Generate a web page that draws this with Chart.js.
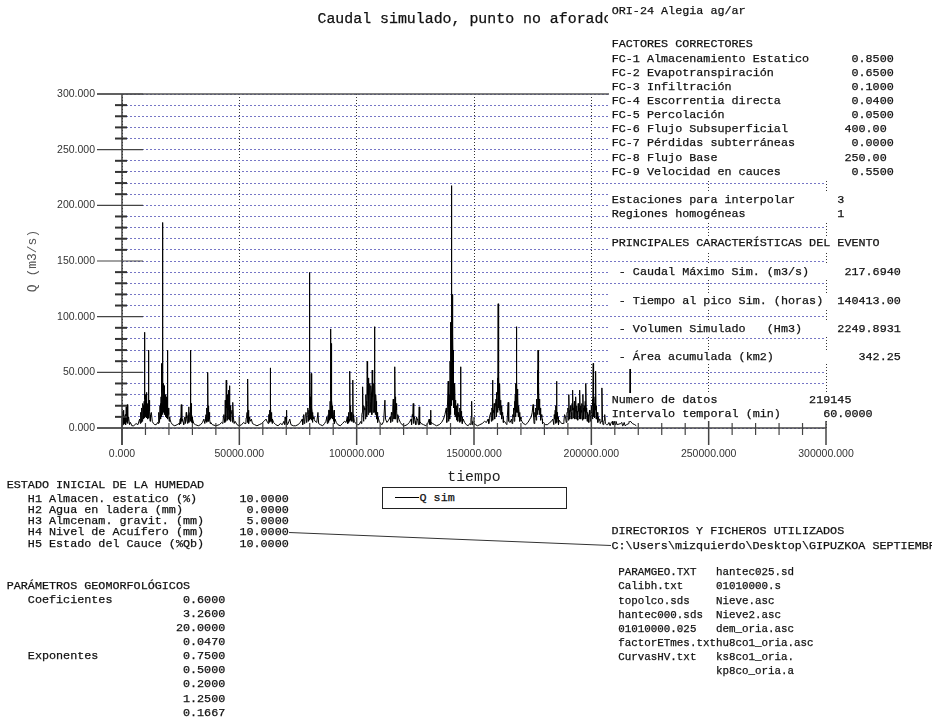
<!DOCTYPE html>
<html>
<head>
<meta charset="utf-8">
<script src="https://cdn.jsdelivr.net/npm/chart.js@4/dist/chart.umd.min.js"></script>
<style>
  html, body { margin: 0; padding: 0; background: #fff; }
  #wrap { position: relative; width: 932px; height: 722px; overflow: hidden; }
  canvas { position: absolute; left: 0; top: 0; }
  .t { position: absolute; white-space: pre; font-family: 'Liberation Mono', monospace; color: #111; box-sizing: border-box; -webkit-text-stroke: 0.25px #111; }
</style>
</head>
<body>
<div id="wrap"><canvas id="c" width="932" height="722"></canvas></div>
<script>
// Simulated hourly discharge: time (hours) and Q (m3/s), one line per flood event
const tiempo = [
  0,200,350,600,800,1100,1500,1800,2000,2300,2500,2800,3200,3600,4200,
  5000,6000,6800,7500,7900,8300,8600,9000,9300,9670,9850,10100,10400,10600,10900,11100,11375,11550,11800,12100,12500,12900,13400,14000,
  14600,15200,15600,16000,16400,16740,16900,17100,17340,17500,17700,17900,18100,18400,18700,19000,19300,19450,19700,20000,20400,20900,21500,
  22500,23500,24300,24800,25260,25500,26100,26600,27000,27390,27700,28100,28410,28700,29000,29270,29450,29700,30100,30600,31300,
  32500,33500,34300,34900,35400,35800,36200,36400,36640,36800,37100,37400,37800,38500,
  40000,41500,42500,43200,43600,44000,44200,44430,44650,44900,45100,45400,45600,45880,46100,46500,46900,47290,47600,48200,49000,50000,
  51000,51800,52400,52900,53300,53500,53680,53850,54200,54600,55100,55600,56500,
  57500,58500,59500,60500,61400,62000,62500,62900,63180,63350,63700,64100,64600,65500,
  66500,67500,68300,69000,69500,70000,70300,70800,71500,72000,73000,
  74000,75000,76000,76800,77400,77900,78400,78800,79200,79500,79960,80150,80400,80640,80900,81300,81800,82300,83000,83500,83800,84500,
  85500,86300,86900,87300,87700,88100,88400,88700,88900,89050,89200,89400,89700,90000,90400,90800,91300,92000,
  93000,94000,94800,95500,96000,96500,96800,97130,97300,97700,98100,98410,98600,99000,99600,100300,
  101000,101800,102200,102540,102700,103100,103500,103900,104200,104500,104700,105000,105200,105500,105800,106100,106400,106630,106900,107200,107450,107650,107800,108100,108400,108700,109100,109600,110200,
  110800,111500,112040,112300,112900,113600,114300,114800,115300,115600,115900,116300,116500,116800,117100,117500,118000,118600,119300,
  120500,121500,122500,123200,123700,124100,124400,124900,125500,126000,126650,126900,127500,128500,
  129500,130300,130900,131200,131500,131800,132400,133200,
  134000,135200,136200,137000,137600,138200,138600,139000,139300,139600,139800,140000,140150,140300,140413,140550,140700,140850,141000,141150,141300,141500,141700,141900,142100,142400,142700,143000,143300,143700,144000,144300,144500,144900,145400,146000,146700,
  147500,148200,148700,149000,149300,149900,150600,
  151500,152500,153500,154500,155300,156000,156600,157200,157600,157900,158200,158600,159000,159400,159700,160000,160150,160300,160450,160600,160800,161000,161300,161600,162000,162500,163000,163600,
  164000,164560,164800,165400,166000,166500,166900,167300,167600,167850,168000,168140,168300,168500,168700,169000,169400,169900,170400,171000,
  172000,173000,173800,174400,174800,175160,175400,175900,176300,176700,177000,177150,177300,177450,177650,177900,178200,178600,179100,179700,180400,
  181400,182300,183000,183600,184200,184600,184900,185200,185400,185800,186300,186900,
  187500,188300,189000,189600,190000,190400,190700,191100,191500,191800,192100,192400,192800,193100,193400,193700,194000,194400,194800,195100,195400,195700,196000,196400,196700,197000,197400,197700,198000,198400,198800,199200,
  199600,200000,200300,200600,200800,201000,201300,201600,201900,202100,202500,203000,203600,204200,204500,204800,
  205300,205700,206000,207000,208500,209200,210500,211000,212500,213500,215000,216300,216500,216700,217500,218500,219145
];
const qSim = [
  2,15,3,16,4,8,3,19,5,21,6,10,3,5,2,
  2,4,3,8,4,12,6,20,10,86,30,18,32,12,22,14,70,25,15,10,14,6,4,3,
  3,5,12,6,22,58,25,35,184.6,40,30,38,22,30,18,26,70,30,18,12,8,5,3,
  2,3,4,8,21,6,5,9,4,14,6,10,19,8,14,70,22,12,8,4,3,
  2,3,5,8,6,12,18,10,50,20,14,8,5,3,
  2,3,5,10,8,25,14,43,20,30,16,34,18,38,20,12,16,23,10,6,3,2,
  3,5,4,9,14,8,44,16,10,6,8,4,3,
  2,3,4,6,8,5,12,16,54,22,14,8,5,3,
  2,4,3,6,10,16,6,4,8,3,2,
  2,3,5,8,12,6,14,10,18,12,139.7,28,20,49,18,12,8,6,5,14,4,3,
  2,4,6,10,8,16,12,24,89,30,76,25,18,12,16,8,5,3,
  2,4,6,5,10,14,8,51,20,14,10,43,12,6,4,3,
  3,6,12,37,14,20,16,30,22,60,35,45,28,40,24,38,30,52,28,40,30,91,42,30,22,14,10,6,4,
  3,6,25,8,5,7,10,14,18,26,20,55,28,22,16,12,8,5,3,
  2,3,5,8,12,22,8,6,10,7,19,6,4,3,
  2,4,8,6,16,5,4,3,
  2,3,5,8,12,18,14,42,20,30,60,45,95,80,217.694,125,100,120,85,70,55,40,30,38,25,20,16,22,14,12,18,55,15,10,8,5,3,
  2,4,8,24,6,5,3,
  2,3,4,6,5,8,10,14,18,43,16,22,18,26,32,45,38,111.6,60,48,35,40,25,20,14,10,6,4,
  3,23,6,5,8,12,18,24,30,40,46,91,44,35,28,20,14,10,6,4,
  3,5,8,10,14,21,10,14,18,26,40,52,70,50,38,26,18,12,8,5,3,
  3,5,6,8,12,16,20,42,14,10,7,5,
  4,6,10,14,18,30,16,20,14,22,34,18,24,16,28,20,15,22,18,34,20,16,22,30,18,20,24,40,18,14,12,16,
  10,20,14,26,58,30,22,28,51,20,14,10,8,6,36,5,
  6,12,4,3,5,3,6,3,4,2,3,8,53,6,4,3,2
];

// Dense low-flow oscillation at the foot of each event, [hours, m3/s]
const fondo = [
  [300,4],[500,12],[700,3],[900,10],[1200,4],[1400,12],[1600,3],[2100,14],[2400,4],[2700,9],
  [7800,4],[8000,14],[8200,5],[8450,18],[8700,6],[8900,22],[9150,8],[9450,24],[9550,9],[9750,26],[10000,10],[10250,24],[10500,9],[10750,20],[11000,8],[11250,22],[11450,9],[11700,18],[11950,6],[12200,12],
  [15400,4],[15700,14],[15900,5],[16200,20],[16500,8],[16650,28],[16800,10],[17000,32],[17200,12],[17450,34],[17600,14],[17800,32],[18000,12],[18250,30],[18500,10],[18800,26],[18900,9],[19100,28],[19200,10],[19400,24],[19600,8],[19850,16],[20100,6],[20300,10],
  [24500,3],[24900,9],[25100,4],[25700,8],[26300,3],[26800,10],[27200,4],[27550,9],[27900,4],[28250,12],[28550,5],[28850,12],[29100,6],[29350,14],[29550,5],[29850,10],[30000,4],
  [35300,4],[35600,10],[36000,5],[36100,14],[36300,6],[36500,16],[36700,7],[36900,15],[37000,6],[37250,12],[37600,4],
  [43000,4],[43400,12],[43800,5],[44100,16],[44300,6],[44550,18],[44800,7],[45000,16],[45250,8],[45500,16],[45750,7],[46000,14],[46300,6],[46700,12],[47100,5],[47450,10],[47800,4],
  [52800,4],[53100,10],[53400,5],[53600,12],[53750,5],[53950,12],[54100,4],[54400,8],
  [62300,4],[62700,12],[62800,5],[63050,16],[63100,6],[63250,15],[63500,6],[63800,10],[64000,4],
  [69300,3],[69700,8],[69900,3],[70150,10],[70500,3],
  [77000,3],[77300,10],[77700,4],[78100,12],[78600,5],[79000,14],[79350,6],[79700,16],[79850,7],[80050,18],[80250,8],[80500,16],[80750,7],[81000,14],[81200,5],[81500,10],
  [87500,4],[87900,12],[88000,5],[88250,16],[88550,7],[88800,20],[88950,8],[89150,22],[89300,9],[89500,20],[89600,8],[89850,16],[90150,6],[90300,12],[90500,4],
  [96200,4],[96400,10],[96650,5],[96950,14],[97050,6],[97200,16],[97500,7],[97900,14],[98000,6],[98300,14],[98500,5],[98800,10],
  [102000,4],[102400,14],[102900,6],[103300,18],[103700,8],[104000,24],[104350,10],[104600,30],[104850,12],[105100,32],[105350,14],[105650,34],[105950,14],[106250,32],[106500,12],[106750,30],[107050,14],[107350,34],[107550,14],[107700,30],[107950,12],[108250,24],[108550,8],[108850,14],[109000,5],
  [114500,5],[115000,12],[115150,6],[115450,18],[115750,8],[116000,20],[116150,8],[116400,22],[116650,8],[116950,16],[117300,5],
  [123400,3],[123900,10],[124250,4],[124600,10],[125200,3],[125800,8],[126300,3],[126500,10],[126800,3],
  [131000,3],[131350,8],[131650,3],
  [138400,5],[138800,14],[139150,6],[139450,18],[139700,8],[139900,24],[140080,12],[140230,40],[140350,20],[140480,60],[140620,30],[140780,70],[140920,25],[141080,45],[141220,18],[141400,30],[141600,12],[141800,22],[142000,10],[142250,16],[142550,7],[142850,14],[143150,6],[143500,10],[143850,5],[144150,14],[144400,6],[144700,10],[145000,4],
  [148500,3],[148850,10],[149150,3],[149500,6],
  [156300,4],[156800,10],[157400,6],[157750,16],[158050,7],[158400,14],[158800,8],[159200,18],[159550,10],[159850,22],[160080,14],[160220,30],[160380,18],[160520,32],[160700,16],[160900,26],[161150,12],[161450,18],[161800,8],[162200,12],[162500,5],
  [166200,4],[166700,10],[167100,6],[167450,16],[167700,10],[167950,24],[168080,14],[168220,30],[168400,14],[168600,24],[168850,10],[169200,14],[169600,6],[170000,8],
  [175600,4],[176100,10],[176500,7],[176850,18],[177080,12],[177220,30],[177380,16],[177550,28],[177780,12],[178050,18],[178400,7],[178900,10],[179200,4],
  [184000,3],[184400,8],[184750,4],[185050,12],[185300,5],[185600,8],[186000,3],
  [188000,4],[188600,12],[189300,5],[189800,14],[190200,7],[190550,16],[190900,8],[191300,15],[191650,8],[191950,16],[192250,9],[192600,16],[192950,8],[193250,15],[193550,8],[193850,14],[194200,7],[194600,15],[194950,8],[195250,16],[195550,8],[195850,14],[196200,7],[196550,16],[196850,8],[197200,15],[197550,8],[197850,14],[198200,6],[198600,10],[199000,5],[199400,12],[199800,6],[200150,16],[200450,8],[200700,20],[200900,10],[201150,18],[201450,9],[201750,16],[202000,8],[202300,10],[202750,5],[203300,7],[203800,4],
  [205000,3],[205500,7],[206500,3],[207500,5],[208000,2],[209000,6],[209500,3],[209800,6],[210200,3],[213000,5],[213300,2],[214000,5],[214400,2],[216000,4]
];

// Axis tick labels
const etiquetasY = ['0.000', '50.000', '100.000', '150.000', '200.000', '250.000', '300.000'];
const etiquetasX = ['0.000', '50000.000', '100000.000', '150000.000', '200000.000', '250000.000', '300000.000'];

// Correction factors
const factoresNombres = [
  'FC-1 Almacenamiento Estatico', 'FC-2 Evapotranspiración', 'FC-3 Infiltración',
  'FC-4 Escorrentia directa', 'FC-5 Percolación', 'FC-6 Flujo Subsuperficial',
  'FC-7 Pérdidas subterráneas', 'FC-8 Flujo Base', 'FC-9 Velocidad en cauces'
];
const factoresValores = ['0.8500', '0.6500', '0.1000', '0.0400', '0.0500', '400.00', '0.0000', '250.00', '0.5500'];

// Event summary
const eventoNombres = [' - Caudal Máximo Sim. (m3/s)', ' - Tiempo al pico Sim. (horas)', ' - Volumen Simulado   (Hm3)', ' - Área acumulada (km2)'];
const eventoValores = ['217.6940', '140413.00', '2249.8931', '342.25'];

// Initial moisture state
const humedadNombres = ['H1 Almacen. estatico (%)', 'H2 Agua en ladera (mm)', 'H3 Almcenam. gravit. (mm)', 'H4 Nivel de Acuífero (mm)', 'H5 Estado del Cauce (%Qb)'];
const humedadValores = ['10.0000', '0.0000', '5.0000', '10.0000', '10.0000'];

// Geomorphological parameters
const coeficientes = ['0.6000', '3.2600', '20.0000', '0.0470'];
const exponentes = ['0.7500', '0.5000', '0.2000', '1.2500', '0.1667'];

// Files used
const ficherosA = ['PARAMGEO.TXT', 'Calibh.txt', 'topolco.sds', 'hantec000.sds', '01010000.025', 'factorETmes.txt', 'CurvasHV.txt', ''];
const ficherosB = ['hantec025.sd', '01010000.s', 'Nieve.asc', 'Nieve2.asc', 'dem_oria.asc', 'hu8co1_oria.asc', 'ks8co1_oria.', 'kp8co_oria.a'];

// one ordered series: event readings plus the low-flow record
const puntos = tiempo.map((t, i) => ({ x: t, y: qSim[i] }))
  .concat(fondo.map(([t, q]) => ({ x: t, y: q })))
  .sort((a, b) => a.x - b.x);

// Axis lines with ticks crossing the axes, plus the connector from H4 to the directory line
const ejes = {
  id: 'ejes',
  afterDatasetsDraw(chart) {
    const { ctx, scales: { x, y } } = chart;
    const x0 = x.getPixelForValue(0), x1 = x.getPixelForValue(300000);
    const y0 = y.getPixelForValue(0), y1 = y.getPixelForValue(300);
    const seg = (ax, ay, bx, by, w, c) => {
      ctx.beginPath(); ctx.lineWidth = w; ctx.strokeStyle = c;
      ctx.moveTo(ax, ay); ctx.lineTo(bx, by); ctx.stroke();
    };
    ctx.save();
    ctx.setLineDash([]);
    seg(x0 - 25, y1, x1, y1, 1.5, '#555');
    seg(x0 - 25, y0, x1, y0, 1.5, '#444');
    seg(x0, y1, x0, y0 + 17, 1.5, '#444');
    for (let v = 0; v <= 300; v += 10) {
      const py = y.getPixelForValue(v);
      if (v % 50 === 0) seg(x0 - 25, py, x0 + 21, py, 1.2, '#444');
      else seg(x0 - 7, py, x0 + 5, py, 2, '#333');
    }
    for (let v = 0; v <= 300000; v += 10000) {
      const px = x.getPixelForValue(v);
      if (v % 50000 === 0) seg(px, y0 - 11, px, y0 + 17, 1.5, '#444');
      else seg(px, y0 - 5, px, y0 + 7, 1.2, '#444');
    }
    seg(289, 532.5, 611, 545.5, 1, '#333');
    ctx.restore();
  }
};

const chart = new Chart(document.getElementById('c'), {
  type: 'line',
  data: {
    datasets: [{
      label: 'Q sim',
      data: puntos,
      borderColor: '#000',
      borderWidth: 1,
      pointRadius: 0,
      tension: 0,
      fill: false
    }]
  },
  options: {
    responsive: false,
    animation: false,
    devicePixelRatio: 1,
    events: [],
    layout: { padding: { top: 94, right: 106, bottom: 0, left: 0 } },
    plugins: { legend: { display: false }, title: { display: false }, tooltip: { enabled: false } },
    scales: {
      x: {
        type: 'linear', min: 0, max: 300000,
        afterFit(s) { s.height = 294; },
        ticks: {
          stepSize: 50000, autoSkip: false, maxRotation: 0, padding: 20,
          font: { family: 'Liberation Sans', size: 10.5 }, color: '#333',
          callback: (v) => (v % 50000 === 0 ? etiquetasX[v / 50000] : '')
        },
        grid: { color: '#333', lineWidth: 1, drawTicks: false, borderDash: [1, 2] },
        border: { display: false, dash: [1, 2] },
        title: {
          display: true, text: 'tiempo', color: '#222',
          font: { family: 'Liberation Mono', size: 14.8 },
          padding: { top: 0, bottom: 236.4 }
        }
      },
      y: {
        min: 0, max: 300,
        afterFit(s) { s.width = 122; },
        ticks: {
          stepSize: 10, autoSkip: false, padding: 27,
          font: { family: 'Liberation Sans', size: 10.5 }, color: '#333',
          callback: (v) => (v % 50 === 0 ? etiquetasY[v / 50] : '')
        },
        grid: { color: '#7676c6', lineWidth: 1, drawTicks: false, borderDash: [2, 2] },
        border: { display: false, dash: [2, 2] },
        title: {
          display: true, text: 'Q (m3/s)', color: '#555',
          font: { family: 'Liberation Mono', size: 13 },
          padding: { top: 25, bottom: 0 }
        }
      }
    }
  },
  plugins: [ejes]
});

// ---- text blocks around the plot ----
const wrap = document.getElementById('wrap');
function texto(x, yc, str, size, h, fondoBlanco, ancho) {
  const d = document.createElement('div');
  d.className = 't';
  d.textContent = str;
  d.style.left = x + 'px';
  d.style.top = (yc - h / 2) + 'px';
  d.style.height = h + 'px';
  d.style.lineHeight = h + 'px';
  d.style.fontSize = size + 'px';
  if (fondoBlanco) { d.style.background = '#fff'; d.style.width = ancho + 'px'; d.style.paddingLeft = '2.7px'; }
  wrap.appendChild(d);
  return d;
}
const col = (s, c, v) => s.padEnd(c, ' ') + v;
const fila = (yc, str) => texto(609, yc, str, 11.75, 14.15, true, 323);

// title
texto(317.5, 18.5, 'Caudal simulado, punto no aforado', 14.9, 18, false);
// station label (its white row trims the title's last letter)
const ori = texto(608, 12.5, 'ORI-24 Alegia ag/ar', 11.75, 25, true, 324);
ori.style.paddingLeft = '3.7px';
ori.style.lineHeight = '22px';

// right panel
fila(44.3, 'FACTORES CORRECTORES');
factoresNombres.forEach((n, i) => {
  const v = factoresValores[i];
  const c = v.split('.')[1].length === 2 ? 33 : 34;
  fila(58.6 + 14.15 * i, col(n, c, v));
});
fila(200, col('Estaciones para interpolar', 32, '3'));
fila(214.2, col('Regiones homogéneas', 32, '1'));
fila(243.5, 'PRINCIPALES CARACTERÍSTICAS DEL EVENTO');
const yEvento = [272.5, 300.8, 329, 357.3];
eventoNombres.forEach((n, i) => fila(yEvento[i], col(n, 41 - eventoValores[i].length, eventoValores[i])));
fila(400.5, col('Numero de datos', 28, '219145'));
fila(414, col('Intervalo temporal (min)', 30, '60.0000'));

// bottom-left block
const L = 6.7;
texto(L, 485, 'ESTADO INICIAL DE LA HUMEDAD', 11.75, 14, false);
const yHumedad = [498.5, 510, 521.2, 532.4, 543.6];
humedadNombres.forEach((n, i) => {
  const v = humedadValores[i];
  texto(L, yHumedad[i], col('   ' + n, 40 - v.length, v), 11.75, 12, false);
});
const P = 14.1, Y0 = 585.7;
texto(L, Y0, 'PARÁMETROS GEOMORFOLÓGICOS', 11.75, 14, false);
coeficientes.forEach((v, i) => {
  texto(L, Y0 + P * (1 + i), col(i === 0 ? '   Coeficientes' : '', 31 - v.length, v), 11.75, 14, false);
});
exponentes.forEach((v, i) => {
  texto(L, Y0 + P * (5 + i), col(i === 0 ? '   Exponentes' : '', 31 - v.length, v), 11.75, 14, false);
});

// bottom-right block
texto(611.5, 530.5, 'DIRECTORIOS Y FICHEROS UTILIZADOS', 11.75, 14, false);
texto(611.5, 545.6, 'C:\\Users\\mizquierdo\\Desktop\\GIPUZKOA SEPTIEMBRE', 11.75, 14, false);
ficherosA.forEach((a, i) => {
  texto(618.3, 572.3 + 14.15 * i, a.padEnd(15, ' ') + ficherosB[i], 10.85, 14, false);
});

// legend box built from the dataset
const ds = chart.data.datasets[0];
const caja = document.createElement('div');
caja.style.cssText = 'position:absolute;left:382px;top:487px;width:185px;height:22px;border:1px solid #222;box-sizing:border-box;background:#fff;';
wrap.appendChild(caja);
const muestra = document.createElement('div');
muestra.style.cssText = 'position:absolute;left:395px;top:497px;width:24px;height:0;border-top:1.5px solid ' + ds.borderColor + ';';
wrap.appendChild(muestra);
texto(419.5, 497.5, ds.label, 11.75, 14, false);
</script>
</body>
</html>
